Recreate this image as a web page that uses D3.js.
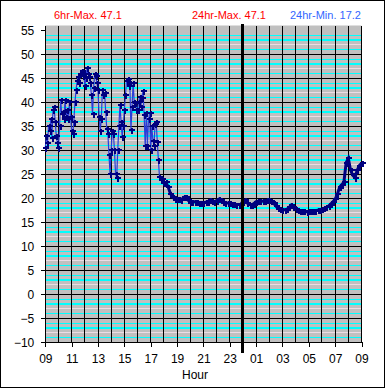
<!DOCTYPE html>
<html>
<head>
<meta charset="UTF-8">
<title>Temperature 24hr</title>
<script src="https://d3js.org/d3.v7.min.js"></script>
<style>
  body { margin: 0; background: #fff; }
  text { font-family: Arial, "Liberation Sans", sans-serif; }
</style>
</head>
<body>
<div id="chart"></div>
<script>
// readings every 5 minutes, 09:00 -> 18:00
var dayTemps = [30.5, 33, 31.5, 35, 34, 36.5, 32.5, 38.5, 39, 36,
    33, 31.5, 30.5, 35, 40.5, 37.5, 38, 36.5, 40.5, 37,
    38.5, 36.5, 40, 37, 34, 33.5, 36, 40, 42.5, 44.5,
    45.3, 44, 46, 46.5, 45.5, 46, 43.5, 45, 47.1, 46,
    45.3, 44, 41.5, 37.5, 43, 46, 45.5, 44, 42.5, 37,
    34, 36.5, 42.5, 41.5, 42, 38, 34.5, 33.5, 29, 25,
    30, 34, 33.5, 30, 25, 24.3, 30, 35, 39.5, 36,
    32.8, 35, 38.5, 41.5, 44.5, 44.8, 43.5, 44, 34.3, 39,
    44, 40, 39.8, 38.5, 38.4, 40, 41.2, 39, 41, 42.3,
    37.4, 30.8, 37.7, 31, 36.5, 37.7, 30, 35, 32, 31,
    35.5, 36, 31.8, 28, 24.5, 23.8, 24, 23.5, 23.2];

// readings every 10 minutes, 18:10 -> 09:00 next morning
var nightTemps = [23.3, 22.3, 21, 20.2, 19.9, 19.8, 19.8, 19.7, 20.2, 20.3,
    19.6, 19.3, 19.3, 19.3, 19.2, 19.0, 19.0, 19.1, 19.2, 19.3,
    19.6, 19.4, 19.3, 19.5, 19.8, 19.6, 19.3, 19.1, 19.0, 19.0,
    18.9, 18.8, 18.7, 18.7, 18.7, 19.4, 19.6, 19.0, 18.7, 18.6,
    18.9, 19.3, 19.4, 19.5, 19.4, 19.4, 19.6, 19.6, 19.4, 19.0,
    18.4, 17.9, 17.7, 17.6, 17.6, 17.7, 18.1, 18.6, 18.2, 17.8,
    17.5, 17.3, 17.3, 17.3, 17.2, 17.3, 17.4, 17.4, 17.4, 17.5,
    17.6, 17.7, 17.9, 18.1, 18.4, 18.8, 19.3, 19.8, 20.8, 22.3,
    22.8, 23.4, 27.4, 28.3, 25.9, 24.8, 24.3, 25.8, 26.8, 27.3];

var hourLabels = ["09", "11", "13", "15", "17", "19", "21", "23", "01", "03", "05", "07", "09"];
var yTicks = [-10, -5, 0, 5, 10, 15, 20, 25, 30, 35, 40, 45, 50, 55];
var headerTexts = ["6hr-Max. 47.1", "24hr-Max. 47.1", "24hr-Min. 17.2"];

// hours since 09:00
var points = [];
dayTemps.forEach(function (v, i) { points.push({ h: i * 5 / 60, v: v }); });
nightTemps.forEach(function (v, i) { points.push({ h: 9 + (i + 1) * 10 / 60, v: v }); });

var W = 385, H = 388;
var svg = d3.select("#chart").append("svg")
    .attr("width", W)
    .attr("height", H);

var x = d3.scaleLinear().domain([0, 24]).range([45.3, 361.5]);
var y = d3.scaleLinear().domain([-10, 56]).range([342.3, 25.5]);

// frame
svg.append("rect")
    .attr("x", 0.5).attr("y", 0.5)
    .attr("width", W - 1).attr("height", H - 1)
    .attr("fill", "#fff").attr("stroke", "#000");

// plot area
svg.append("rect")
    .attr("x", x(0)).attr("y", y(56))
    .attr("width", x(24) - x(0)).attr("height", y(-10) - y(56))
    .attr("fill", "#c0c0c0");

var grid = svg.append("g").attr("shape-rendering", "crispEdges");

// minor lines every degree
function band(d) { return ((d % 5) + 5) % 5; }
grid.selectAll("line.minor")
    .data(d3.range(-9, 56).filter(function (v) { return v % 5 !== 0; }))
    .join("line")
    .attr("x1", x(0)).attr("x2", x(24))
    .attr("y1", function (d) { return y(d); })
    .attr("y2", function (d) { return y(d); })
    .attr("stroke", function (d) { return band(d) === 2 ? "#ecdce4" : "#00ffff"; })
    .attr("stroke-width", function (d) { return band(d) === 3 ? 2 : 1; });

// major lines every 5 degrees
grid.selectAll("line.major")
    .data(d3.range(-10, 51, 5))
    .join("line")
    .attr("x1", x(0)).attr("x2", x(24))
    .attr("y1", function (d) { return y(d); })
    .attr("y2", function (d) { return y(d); })
    .attr("stroke", "#000");

// hour lines
grid.selectAll("line.hour")
    .data(d3.range(0, 25))
    .join("line")
    .attr("x1", function (d) { return x(d); })
    .attr("x2", function (d) { return x(d); })
    .attr("y1", y(56)).attr("y2", y(-10))
    .attr("stroke", "#000");

// temperature line + markers
var line = d3.line()
    .x(function (d) { return x(d.h); })
    .y(function (d) { return y(d.v); });

svg.append("path")
    .datum(points)
    .attr("d", line)
    .attr("fill", "none")
    .attr("stroke", "#2a3cd8")
    .attr("stroke-width", 1.2);

svg.append("path")
    .datum(points.filter(function (d) { return d.h >= 9; }))
    .attr("d", line)
    .attr("fill", "none")
    .attr("stroke", "#000080")
    .attr("stroke-width", 3);

svg.append("g")
    .attr("shape-rendering", "crispEdges")
    .selectAll("path")
    .data(points)
    .join("path")
    .attr("d", function (d) {
        var px = Math.round(x(d.h)), py = Math.round(y(d.v));
        return "M" + (px - 2.5) + "," + py + "h6M" + (px + 0.5) + "," + (py - 2.5) + "v6";
    })
    .attr("stroke", "#000080")
    .attr("stroke-width", 2)
    .attr("fill", "none");

// midnight marker
svg.append("line")
    .attr("x1", x(15)).attr("x2", x(15))
    .attr("y1", 24).attr("y2", 353)
    .attr("stroke", "#000").attr("stroke-width", 3)
    .attr("shape-rendering", "crispEdges");

// axes
var yAxis = d3.axisLeft(y).tickValues(yTicks).tickSize(4).tickPadding(7);
svg.append("g")
    .attr("transform", "translate(" + x(0) + ",0)")
    .call(yAxis)
    .attr("font-size", 12)
    .attr("font-family", "Arial, 'Liberation Sans', sans-serif")
    .call(function (g) { g.select(".domain").remove(); })
    .selectAll("line").attr("shape-rendering", "crispEdges");

var xAxis = d3.axisBottom(x)
    .tickValues(d3.range(0, 25, 2))
    .tickFormat(function (d, i) { return hourLabels[i]; })
    .tickSize(5).tickPadding(7);
svg.append("g")
    .attr("transform", "translate(0," + y(-10) + ")")
    .call(xAxis)
    .attr("font-size", 12)
    .attr("font-family", "Arial, 'Liberation Sans', sans-serif")
    .call(function (g) { g.select(".domain").remove(); })
    .selectAll("line").attr("shape-rendering", "crispEdges");

svg.append("text")
    .attr("x", 195).attr("y", 379)
    .attr("text-anchor", "middle")
    .attr("font-size", 12)
    .text("Hour");

// header values
var headerX = [54, 192, 290];
var headerColor = ["#ff0000", "#ff0000", "#3366ff"];
svg.selectAll("text.head")
    .data(headerTexts)
    .join("text")
    .attr("class", "head")
    .attr("x", function (d, i) { return headerX[i]; })
    .attr("y", 19)
    .attr("font-size", 11)
    .attr("fill", function (d, i) { return headerColor[i]; })
    .text(function (d) { return d; });
</script>
</body>
</html>
